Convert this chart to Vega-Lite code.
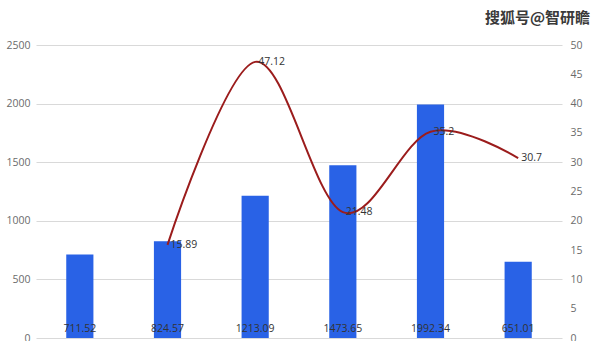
{
  "$schema": "https://vega.github.io/schema/vega-lite/v6.json",
  "width": 526,
  "height": 293,
  "autosize": {"type": "none"},
  "padding": {"left": 36, "top": 45, "right": 38, "bottom": 3},
  "background": "#ffffff",
  "config": {
    "view": {"stroke": null},
    "font": "Open Sans",
    "axis": {"labelFont": "Open Sans", "labelFontSize": 10.5, "labelColor": "#6b6b6b"}
  },
  "title": {
    "text": "搜狐号@智研瞻",
    "anchor": "end",
    "frame": "group",
    "dx": 28,
    "offset": 14,
    "fontSize": 15,
    "fontWeight": "bold",
    "font": "Noto Sans CJK SC",
    "color": "#3a3a3a"
  },
  "data": {
    "values": [
      {"cat": "1", "value": 711.52, "rate": null},
      {"cat": "2", "value": 824.57, "rate": 15.89},
      {"cat": "3", "value": 1213.09, "rate": 47.12},
      {"cat": "4", "value": 1473.65, "rate": 21.48},
      {"cat": "5", "value": 1992.34, "rate": 35.2},
      {"cat": "6", "value": 651.01, "rate": 30.7}
    ]
  },
  "encoding": {
    "x": {"field": "cat", "type": "nominal", "axis": null, "scale": {"paddingInner": 0.69, "paddingOuter": 0.345}}
  },
  "layer": [
    {
      "layer": [
        {
          "mark": {"type": "bar", "color": "#2962e6"},
          "encoding": {
            "y": {
              "field": "value", "type": "quantitative",
              "scale": {"domain": [0, 2500], "nice": false},
              "axis": {"orient": "left", "values": [0, 500, 1000, 1500, 2000, 2500], "format": "d", "title": null, "domain": false, "ticks": false, "labelPadding": 6, "grid": true, "gridColor": "#d9d9d9", "gridWidth": 1}
            }
          }
        },
        {
          "mark": {"type": "text", "baseline": "bottom", "dy": -4, "fontSize": 10.5, "color": "#333333"},
          "encoding": {
            "y": {"datum": 0, "type": "quantitative",
              "scale": {"domain": [0, 2500], "nice": false},
              "axis": {"orient": "left", "values": [0, 500, 1000, 1500, 2000, 2500], "format": "d", "title": null, "domain": false, "ticks": false, "labelPadding": 6, "grid": true, "gridColor": "#d9d9d9", "gridWidth": 1}},
            "text": {"field": "value", "type": "quantitative", "format": ".2f"}
          }
        }
      ]
    },
    {
      "transform": [{"filter": "datum.rate != null"}],
      "layer": [
        {
          "mark": {"type": "line", "color": "#9b1c1c", "strokeWidth": 2, "interpolate": "cardinal"},
          "encoding": {
            "y": {
              "field": "rate", "type": "quantitative",
              "scale": {"domain": [0, 50], "nice": false},
              "axis": {"orient": "right", "values": [0, 5, 10, 15, 20, 25, 30, 35, 40, 45, 50], "title": null, "domain": false, "ticks": false, "labelPadding": 8, "grid": false}
            }
          }
        },
        {
          "mark": {"type": "text", "align": "left", "baseline": "middle", "dx": 3, "fontSize": 10.5, "color": "#333333"},
          "encoding": {
            "y": {"field": "rate", "type": "quantitative",
              "scale": {"domain": [0, 50], "nice": false},
              "axis": {"orient": "right", "values": [0, 5, 10, 15, 20, 25, 30, 35, 40, 45, 50], "title": null, "domain": false, "ticks": false, "labelPadding": 8, "grid": false}},
            "text": {"field": "rate", "type": "quantitative"}
          }
        }
      ]
    }
  ],
  "resolve": {"scale": {"y": "independent"}}
}
